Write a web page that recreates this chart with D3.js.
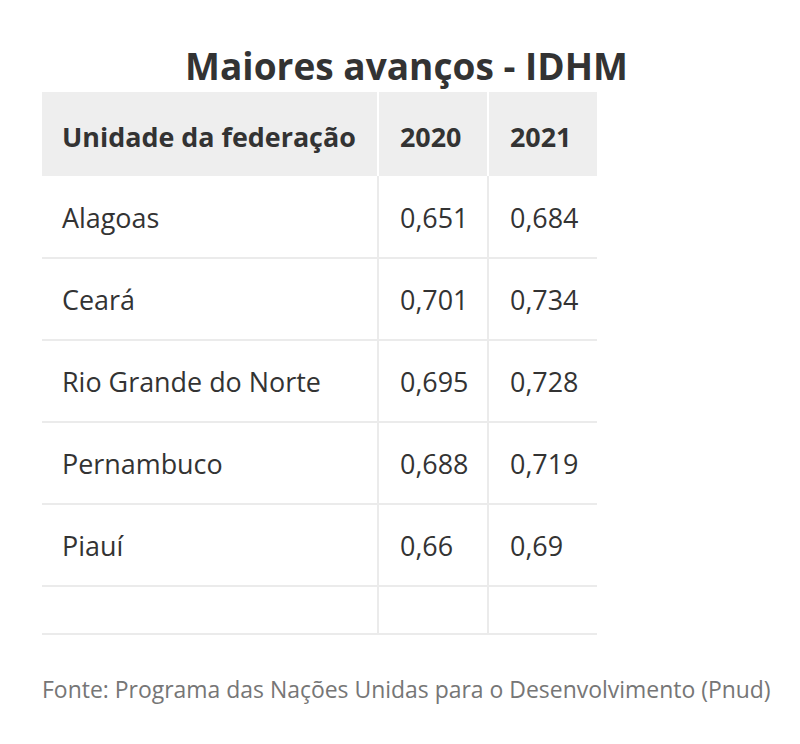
<!DOCTYPE html>
<html><head><meta charset="utf-8">
<script src="https://cdn.jsdelivr.net/npm/d3@7"></script>
<style>body{margin:0;background:#fff}svg{display:block}</style>
</head><body>
<script>
const title = "Maiores avanços - IDHM";
const headers = ["Unidade da federação", "2020", "2021"];
const states = ["Alagoas", "Ceará", "Rio Grande do Norte", "Pernambuco", "Piauí"];
const idhm2020 = [0.651, 0.701, 0.695, 0.688, 0.66];
const idhm2021 = [0.684, 0.734, 0.728, 0.719, 0.69];
const source = "Fonte: Programa das Nações Unidas para o Desenvolvimento (Pnud)";

const W = 800, H = 744;
const svg = d3.select("body").append("svg").attr("width", W).attr("height", H);
const fmt = d3.formatLocale({decimal: ",", thousands: ".", grouping: [3], currency: ["R$", ""]}).format("");
const FONT = "'Open Sans', sans-serif";
const ink = "#333333";

const colEdges = [42, 378, 488, 597];
const x = d3.scaleOrdinal().domain(headers).range(colEdges.slice(0, 3));
const y = d3.scaleBand().domain(states).range([176, 586]).padding(0);
const headTop = 92, headBot = 176, tableBot = 635;

// size a font so that a sample string has the target width
function fitSize(text, weight, base, target) {
  const t = svg.append("text").attr("font-family", FONT).attr("font-weight", weight)
    .attr("font-size", base).text(text);
  const len = t.node().getComputedTextLength();
  t.remove();
  return base * target / len;
}

// title
svg.append("text").attr("x", 406.5).attr("y", 80).attr("text-anchor", "middle")
  .attr("font-family", FONT).attr("font-weight", 700)
  .attr("font-size", fitSize(title, 700, 38, 443))
  .attr("fill", ink).text(title);

// header background
svg.append("rect").attr("x", colEdges[0]).attr("y", headTop)
  .attr("width", colEdges[3] - colEdges[0]).attr("height", headBot - headTop).attr("fill", "#eeeeee");

// horizontal row lines
const lineYs = states.map(s => y(s) + y.bandwidth()).concat([tableBot - 1]);
svg.selectAll("line.h").data(lineYs).join("line").attr("class", "h")
  .attr("x1", colEdges[0]).attr("x2", colEdges[3]).attr("y1", d => d).attr("y2", d => d)
  .attr("stroke", "#ebebeb").attr("stroke-width", 2);

// vertical lines
[colEdges[1], colEdges[2]].forEach(cx => {
  svg.append("line").attr("x1", cx).attr("x2", cx).attr("y1", headTop).attr("y2", headBot)
    .attr("stroke", "#ffffff").attr("stroke-width", 2);
  svg.append("line").attr("x1", cx).attr("x2", cx).attr("y1", headBot).attr("y2", tableBot)
    .attr("stroke", "#ebebeb").attr("stroke-width", 2);
});

// header texts
const pad = [20, 22, 22];
const headSize = fitSize(headers[0], 700, 25, 294);
svg.selectAll("text.hd").data(headers).join("text").attr("class", "hd")
  .attr("x", (d, i) => x(d) + pad[i]).attr("y", 147)
  .attr("font-family", FONT).attr("font-weight", 700).attr("font-size", headSize)
  .attr("fill", ink).text(d => d);

// body rows
const bodySize = fitSize(states[2], 400, 25, 259);
const rows = states.map((s, i) => ({s, a: idhm2020[i], b: idhm2021[i]}));
const g = svg.selectAll("g.row").data(rows).join("g").attr("class", "row")
  .attr("transform", d => `translate(0,${y(d.s) + y.bandwidth() / 2 + 11})`);
g.append("text").attr("x", x(headers[0]) + pad[0]).text(d => d.s);
g.append("text").attr("x", x(headers[1]) + pad[1]).text(d => fmt(d.a));
g.append("text").attr("x", x(headers[2]) + pad[2]).text(d => fmt(d.b));
g.selectAll("text").attr("font-family", FONT).attr("font-size", bodySize).attr("fill", ink);

// source
svg.append("text").attr("x", 42).attr("y", 698)
  .attr("font-family", FONT).attr("font-size", fitSize(source, 400, 20, 729)).attr("fill", "#767676")
  .text(source);
</script>
</body></html>
